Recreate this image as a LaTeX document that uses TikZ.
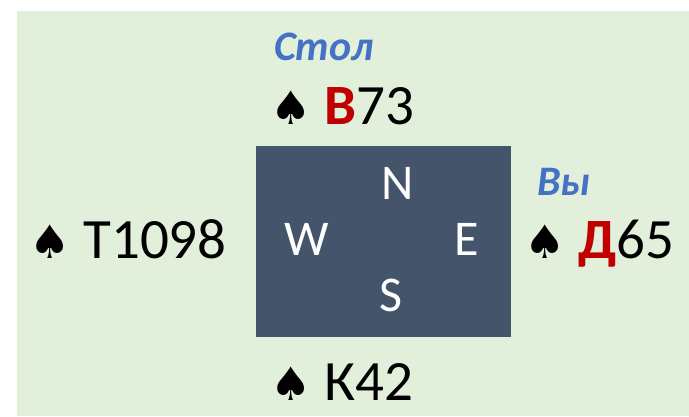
\documentclass[tikz,border=0pt]{standalone}
\usepackage{fontspec}
\setmainfont{Carlito}
\newfontfamily\spfont{DejaVu Sans}
\definecolor{bgreen}{HTML}{E2EFDA}
\definecolor{boxblue}{HTML}{44546A}
\definecolor{lblblue}{HTML}{4472C4}
\definecolor{hon}{HTML}{C00000}
\newcommand{\spd}{{\fontsize{46}{46}\spfont ♠}}
\begin{document}
\begin{tikzpicture}[x=1pt,y=-1pt,
  hand/.style={anchor=base west,inner sep=0pt,font=\fontsize{57}{57}\selectfont},
  dir/.style={anchor=base west,inner sep=0pt,text=white,font=\fontsize{50}{50}\selectfont},
  who/.style={anchor=base west,inner sep=0pt,text=lblblue,font=\fontsize{42}{42}\selectfont\bfseries\itshape}]
\useasboundingbox (0,0) rectangle (689,416);
\fill[white] (0,0) rectangle (689,416);
\fill[bgreen] (17,11) rectangle (689,416);
\node[fill=boxblue,inner sep=0pt,minimum width=255pt,minimum height=191pt,anchor=north west] (table) at (256,146) {};
\node[dir] (n) at (381,199) {N};
\node[dir] (w) at (284,255) {W};
\node[dir] (e) at (454,255) {E};
\node[dir] (s) at (379,311) {S};
\node[who] (dummy) at (274,60) {Стол};
\node[who] (you) at (537,195) {Вы};
\node[hand] (north) at (270,124) {\spd\hspace{13pt}{\color{hon}\bfseries В}73};
\node[hand] (west) at (29,258) {\spd\hspace{13pt}Т1098};
\node[hand] (east) at (524,258) {\spd\hspace{13pt}{\color{hon}\bfseries Д}65};
\node[hand] (south) at (270,400) {\spd\hspace{13pt}К42};
\end{tikzpicture}
\end{document}
